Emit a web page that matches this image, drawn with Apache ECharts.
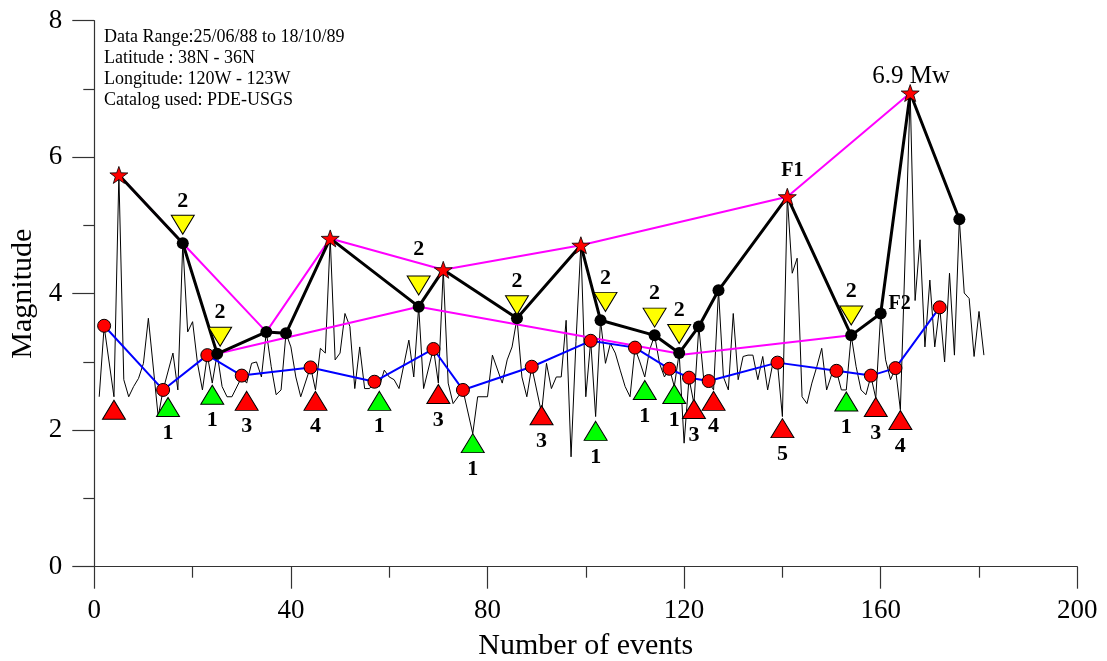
<!DOCTYPE html>
<html><head><meta charset="utf-8">
<script src="https://cdn.jsdelivr.net/npm/echarts@6/dist/echarts.min.js"></script>
<style>html,body{margin:0;padding:0;background:#fff}#c{width:1107px;height:661px}</style>
</head><body><div id="c"></div>
<script>
// ---- data (x = number of events, y = magnitude) ----
const thinLine = [
[1,2.49],[2,3.52],[4,2.49],[5,5.74],[6,2.74],[7,2.49],[8,2.64],[9,2.76],[10,2.98],[11,3.64],[13,2.20],[14,2.59],[16,3.13],[17,2.59],[18,4.74],[19,3.44],[20,3.59],[21,2.98],[22,2.59],[23,3.10],[24,2.69],[25,3.12],[26,2.64],[27,2.49],[28,2.49],[30,2.78],[31,2.69],[32,2.98],[33,3.00],[34,2.78],[35,3.44],[36,2.93],[37,2.52],[38,2.59],[39,3.42],[40,3.22],[41,2.78],[42,2.49],[44,2.93],[45,2.59],[46,3.20],[47,3.13],[48,4.81],[49,3.03],[50,3.13],[51,3.71],[52,3.52],[53,2.61],[54,3.22],[55,2.61],[56,2.61],[57,2.71],[58,2.64],[59,2.88],[60,2.78],[61,2.74],[62,2.61],[64,3.32],[65,2.78],[66,3.81],[67,2.61],[69,3.20],[70,2.69],[71,4.35],[72,2.69],[73,2.39],[75,2.59],[77,1.95],[78,2.49],[80,2.49],[81,3.10],[83,2.69],[84,3.03],[85,3.22],[86,3.64],[87,2.78],[88,2.49],[89,2.93],[91,2.25],[92,2.98],[93,2.61],[94,2.78],[95,2.78],[96,3.61],[97,1.61],[98,3.30],[99,4.71],[100,2.49],[101,3.31],[102,2.20],[103,3.61],[104,2.98],[105,3.27],[106,3.13],[107,2.88],[108,2.64],[109,2.49],[110,3.20],[111,3.00],[112,2.78],[113,3.18],[114,3.39],[115,2.98],[116,2.78],[117,2.91],[118,2.64],[119,3.13],[120,1.81],[121,2.76],[122,2.39],[123,3.52],[124,2.74],[125,2.71],[126,2.59],[127,4.05],[128,2.78],[129,2.59],[130,3.71],[131,2.74],[132,3.08],[133,3.10],[134,3.10],[135,2.74],[136,3.08],[137,2.59],[138,2.96],[139,2.98],[140,2.20],[141,5.42],[142,4.30],[143,4.52],[144,2.49],[145,2.39],[146,2.69],[147,2.93],[148,3.20],[149,2.59],[150,2.81],[151,2.87],[152,2.59],[153,2.59],[154,3.39],[155,2.93],[156,2.59],[157,2.52],[158,2.79],[159,2.47],[160,3.71],[161,3.03],[162,2.74],[163,2.91],[164,2.30],[166,6.94],[167,3.90],[168,4.79],[169,3.22],[170,4.20],[171,3.22],[172,3.81],[173,3.00],[174,4.30],[175,3.10],[176,5.09],[177,4.01],[178,3.93],[179,3.08],[180,3.74],[181,3.10]
];
const blackX = [5,18,25,35,39,48,66,71,86,99,103,114,119,123,127,141,154,160,166,176];
const blackY = [5.74,4.74,3.12,3.44,3.42,4.81,3.81,4.35,3.64,4.71,3.61,3.39,3.13,3.52,4.05,5.42,3.39,3.71,6.94,5.09];
const starX = [5,48,71,99,141,166];
const starY = [5.74,4.81,4.35,4.71,5.42,6.94];
const starLabels = ['','','','','F1','6.9 Mw'];
const dotX = [18,25,35,39,66,86,103,114,119,123,127,154,160,176];
const dotY = [4.74,3.12,3.44,3.42,3.81,3.64,3.61,3.39,3.13,3.52,4.05,3.39,3.71,5.09];
const dotLabels = ['','','','','','','','','','','','','F2',''];
const magUpperX = [5,18,35,48,71,99,141,166];
const magUpperY = [5.74,4.74,3.44,4.81,4.35,4.71,5.42,6.94];
const magLowerX = [25,66,120,154];
const magLowerY = [3.12,3.81,3.11,3.39];
const blueX = [2,14,23,30,44,57,69,75,89,101,110,117,121,125,139,151,158,163,172];
const blueY = [3.53,2.59,3.10,2.80,2.92,2.71,3.19,2.59,2.93,3.31,3.21,2.90,2.77,2.72,2.99,2.87,2.80,2.91,3.80];
const redTriX = [4,31,45,70,91,122,126,140,159,164];
const redTriY = [2.30,2.43,2.43,2.53,2.22,2.31,2.43,2.03,2.34,2.15];
const redTriLabels = ['','3','4','3','3','3','4','5','3','4'];
const greenTriX = [15,24,58,77,102,112,118,153];
const greenTriY = [2.34,2.52,2.43,1.81,1.99,2.59,2.53,2.42];
const greenTriLabels = ['1','1','1','1','1','1','1','1'];
const yellowTriX = [18,25.6,66,86,104,114,119,154];
const yellowTriY = [5.01,3.37,4.12,3.83,3.88,3.65,3.41,3.68];
const yellowTriLabels = ['2','2','2','2','2','2','2','2'];
const infoLines = ['Data Range:25/06/88 to 18/10/89','Latitude : 38N - 36N','Longitude: 120W - 123W','Catalog used: PDE-USGS'];
const xTicks = {min:0, max:200, interval:40};
const yTicks = {min:0, max:8, interval:2};

// ---- rendering ----
const SERIF = '"Liberation Serif","Times New Roman",serif';
function starPath(){
  const p=[];
  for(let i=0;i<10;i++){
    const r = i%2 ? 0.40 : 1;
    const a = -Math.PI/2 + i*Math.PI/5;
    p.push((50+50*r*Math.cos(a)).toFixed(2)+','+(50+50*r*Math.sin(a)).toFixed(2));
  }
  return 'path://M'+p.join('L')+'Z';
}
const downTri = 'path://M0,0L20,0L10,17Z';
const zip = (xs, ys) => xs.map((x,i)=>[x, ys[i]]);

const triLabelStyle = {show:true, fontFamily:SERIF, fontWeight:'bold', fontSize:22, color:'#000', opacity:1};
const noEmph = {disabled:true};

const chart = echarts.init(document.getElementById('c'), null, {renderer:'canvas'});
chart.setOption({
  animation:false,
  backgroundColor:'#fff',
  grid:{left:94.3, right:29.7, top:20.7, bottom:94.3, containLabel:false, outerBoundsMode:'none'},
  xAxis:{
    type:'value', min:xTicks.min, max:xTicks.max, interval:xTicks.interval,
    name:'Number of events', nameLocation:'middle', nameGap:64,
    nameTextStyle:{fontFamily:SERIF, fontSize:30, color:'#000'},
    axisLine:{show:true, onZero:false, lineStyle:{color:'#333', width:1.2}},
    axisTick:{show:true, inside:false, length:22, lineStyle:{color:'#333', width:1.2}},
    minorTick:{show:true, splitNumber:2, length:11, lineStyle:{color:'#333', width:1.2}},
    splitLine:{show:false},
    axisLabel:{fontFamily:SERIF, fontSize:27, color:'#000', margin:31}
  },
  yAxis:{
    type:'value', min:yTicks.min, max:yTicks.max, interval:yTicks.interval,
    name:'Magnitude', nameLocation:'middle', nameGap:55,
    nameTextStyle:{fontFamily:SERIF, fontSize:30, color:'#000'},
    axisLine:{show:true, onZero:false, lineStyle:{color:'#333', width:1.2}},
    axisTick:{show:true, inside:false, length:22, lineStyle:{color:'#333', width:1.2}},
    minorTick:{show:true, splitNumber:2, length:11, lineStyle:{color:'#333', width:1.2}},
    splitLine:{show:false},
    axisLabel:{fontFamily:SERIF, fontSize:27, color:'#000', margin:32}
  },
  graphic:[{
    type:'text', left:104, top:27, z:100,
    style:{text:infoLines.join('\n'), font:'18px '+SERIF, fill:'#000', lineHeight:21}
  }],
  series:[
    {type:'line', data:thinLine, showSymbol:false, symbol:'none', lineStyle:{color:'#000', width:1, opacity:1}, z:1, clip:false, emphasis:noEmph},
    {type:'line', data:zip(magUpperX,magUpperY), symbol:'none', lineStyle:{color:'#ff00ff', width:2, opacity:1}, z:2, emphasis:noEmph},
    {type:'line', data:zip(magLowerX,magLowerY), symbol:'none', lineStyle:{color:'#ff00ff', width:2, opacity:1}, z:2, emphasis:noEmph},
    {type:'line', data:zip(blackX,blackY), symbol:'none', lineStyle:{color:'#000', width:3, opacity:1}, z:3, emphasis:noEmph},
    {type:'line', data:zip(blueX,blueY), symbol:'circle', symbolSize:13, showAllSymbol:true, showSymbol:true,
      lineStyle:{color:'#0000ff', width:2, opacity:1}, itemStyle:{color:'#ff0000', borderColor:'#000', borderWidth:1, opacity:1}, z:4, emphasis:noEmph},
    {type:'scatter', data:dotX.map((x,i)=>({value:[x,dotY[i]],
        label: dotLabels[i] ? {show:true, formatter:dotLabels[i], position:'inside', offset:[19,-10], fontFamily:SERIF, fontWeight:'bold', fontSize:20, color:'#000'} : {show:false}})),
      symbol:'circle', symbolSize:12, itemStyle:{color:'#000', opacity:1}, z:5, emphasis:noEmph},
    {type:'scatter', data:starX.map((x,i)=>({value:[x,starY[i]],
        label: starLabels[i] ? (starLabels[i]==='F1'
          ? {show:true, formatter:'F1', position:'inside', offset:[5,-26], fontFamily:SERIF, fontWeight:'bold', fontSize:20, color:'#000'}
          : {show:true, formatter:starLabels[i], position:'inside', offset:[1,-17], fontFamily:SERIF, fontSize:25, color:'#000'}) : {show:false}})),
      symbol:starPath(), symbolSize:[18,17], itemStyle:{color:'#ff0000', borderColor:'#000', borderWidth:0.8, opacity:1}, z:6, emphasis:noEmph},
    {type:'scatter', data:redTriX.map((x,i)=>({value:[x,redTriY[i]], label:{show:!!redTriLabels[i], formatter:redTriLabels[i]}})),
      symbol:'triangle', symbolSize:[23,19], itemStyle:{color:'#ff0000', borderColor:'#000', borderWidth:1, opacity:1}, z:6, emphasis:noEmph,
      label:Object.assign({position:'bottom', distance:5}, triLabelStyle)},
    {type:'scatter', data:greenTriX.map((x,i)=>({value:[x,greenTriY[i]], label:{show:!!greenTriLabels[i], formatter:greenTriLabels[i]}})),
      symbol:'triangle', symbolSize:[23,19], itemStyle:{color:'#00ff00', borderColor:'#000', borderWidth:1, opacity:1}, z:6, emphasis:noEmph,
      label:Object.assign({position:'bottom', distance:5}, triLabelStyle)},
    {type:'scatter', data:yellowTriX.map((x,i)=>({value:[x,yellowTriY[i]], label:{show:true, formatter:yellowTriLabels[i], distance:(x===66?15:3)}})),
      symbol:downTri, symbolSize:[23,19], itemStyle:{color:'#ffff00', borderColor:'#000', borderWidth:1, opacity:1}, z:6, emphasis:noEmph,
      label:Object.assign({position:'top', distance:3}, triLabelStyle)}
  ]
});
</script>
</body></html>
